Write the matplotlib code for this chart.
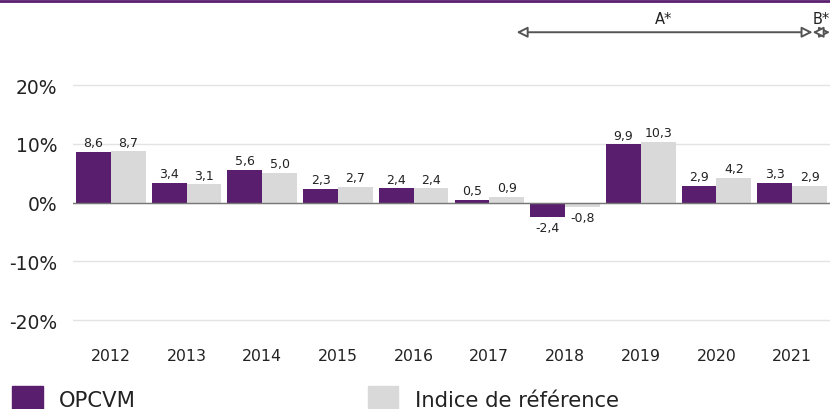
import matplotlib
matplotlib.use('Agg')
import matplotlib.pyplot as plt
from matplotlib.patches import Rectangle

years = ['2012', '2013', '2014', '2015', '2016', '2017', '2018', '2019', '2020', '2021']
opcvm = [8.6, 3.4, 5.6, 2.3, 2.4, 0.5, -2.4, 9.9, 2.9, 3.3]
indice = [8.7, 3.1, 5.0, 2.7, 2.4, 0.9, -0.8, 10.3, 4.2, 2.9]
yticks = [-20, -10, 0, 10, 20]

purple = '#5a1e6e'
grey = '#d9d9d9'

plt.rcParams['font.family'] = ['DejaVu Sans']

fig = plt.figure(figsize=(8.3, 4.1), dpi=100)
ax = fig.add_axes([73 / 830, 65.5 / 410, 757 / 830, 281.9 / 410])

x = list(range(len(years)))
w = 0.46
ax.bar([i - w / 2 for i in x], opcvm, width=w, color=purple, zorder=3)
ax.bar([i + w / 2 for i in x], indice, width=w, color=grey, zorder=3)

# etiquettes des valeurs
for i in x:
    for dx, v in ((-w / 2, opcvm[i]), (w / 2, indice[i])):
        txt = ('%.1f' % v).replace('.', ',')
        if v >= 0:
            ax.annotate(txt, (i + dx, v), xytext=(0, 2), textcoords='offset points',
                        ha='center', va='bottom', fontsize=9, color='#222222')
        else:
            ax.annotate(txt, (i + dx, v), xytext=(0, -3), textcoords='offset points',
                        ha='center', va='top', fontsize=9, color='#222222')

ax.set_xlim(-0.5, 9.5)
ax.set_ylim(-24, 24)
ax.set_yticks(yticks)
ax.set_yticklabels(['%d%%' % t for t in yticks], fontsize=13.5, color='#222222')
ax.set_xticks(x)
ax.set_xticklabels(years, fontsize=11.3, color='#222222')
ax.tick_params(axis='x', length=0, pad=3)
ax.tick_params(axis='y', length=0, pad=11.5)
for s in ax.spines.values():
    s.set_visible(False)
ax.grid(axis='y', color='#e3e3e3', lw=1, zorder=0)
ax.axhline(0, color='#777777', lw=1, zorder=4)

# fleches A* et B*
ap = dict(arrowstyle='<|-|>', color='#555555', lw=1.4, mutation_scale=16,
          shrinkA=0, shrinkB=0, fc='white')
ax.annotate('', xy=(5.36, 29), xytext=(9.27, 29), arrowprops=ap,
            annotation_clip=False)
ax.annotate('', xy=(9.27, 29), xytext=(9.5, 29), arrowprops=ap,
            annotation_clip=False)
ax.text(7.3, 31.4, 'A*', ha='center', va='center', fontsize=10.5, color='#222222')
ax.text(9.27, 31.4, 'B*', ha='left', va='center', fontsize=10.5, color='#222222')

# ligne violette en haut
fig.add_artist(plt.Line2D([0, 1], [1 - 2 / 410, 1 - 2 / 410], color=purple, lw=2))

# legende
fig.add_artist(Rectangle((12 / 830, 0), 31 / 830, 23 / 410, color=purple,
                         transform=fig.transFigure))
fig.add_artist(Rectangle((368 / 830, 0), 30 / 830, 23 / 410, color=grey,
                         transform=fig.transFigure))
fig.text(59 / 830, 3 / 410, 'OPCVM', fontsize=15.2, va='baseline', color='#222222')
fig.text(415 / 830, 3 / 410, 'Indice de référence', fontsize=15.2, va='baseline',
         color='#222222')

fig.savefig('out.png', dpi=100)
